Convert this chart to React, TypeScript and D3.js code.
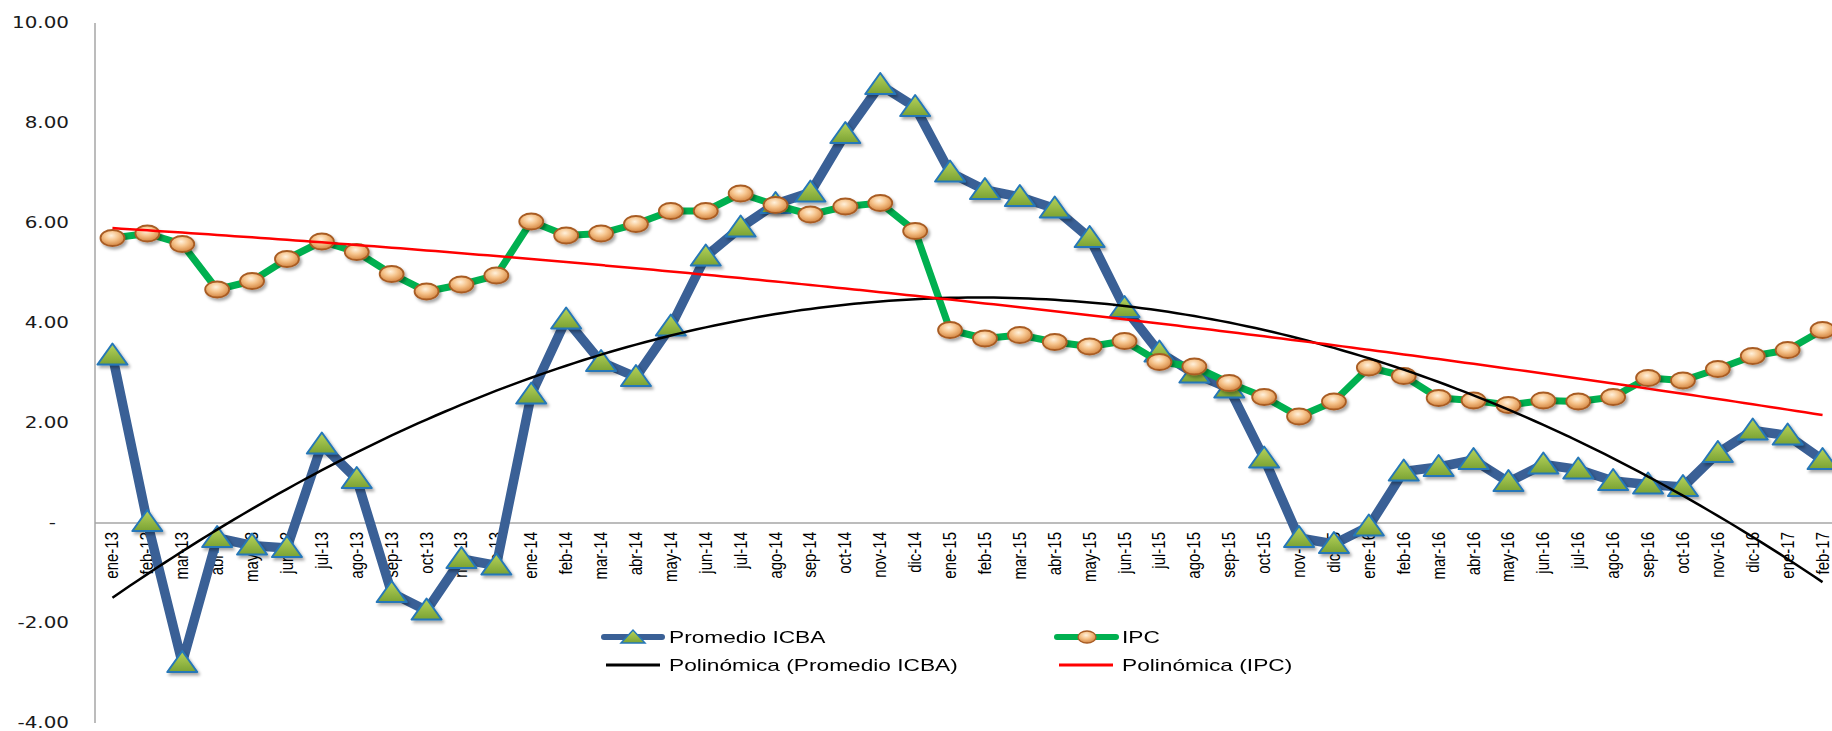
import React from 'react';
import * as d3 from 'd3';

const categories = [
  'ene-13', 'feb-13', 'mar-13', 'abr-13', 'may-13', 'jun-13', 'jul-13', 'ago-13', 'sep-13', 'oct-13', 'nov-13', 'dic-13',
  'ene-14', 'feb-14', 'mar-14', 'abr-14', 'may-14', 'jun-14', 'jul-14', 'ago-14', 'sep-14', 'oct-14', 'nov-14', 'dic-14',
  'ene-15', 'feb-15', 'mar-15', 'abr-15', 'may-15', 'jun-15', 'jul-15', 'ago-15', 'sep-15', 'oct-15', 'nov-15', 'dic-15',
  'ene-16', 'feb-16', 'mar-16', 'abr-16', 'may-16', 'jun-16', 'jul-16', 'ago-16', 'sep-16', 'oct-16', 'nov-16', 'dic-16',
  'ene-17', 'feb-17',
];

const icba = [
  3.35, 0.02, -2.8, -0.3, -0.45, -0.5, 1.57, 0.88, -1.4, -1.75, -0.72, -0.85,
  2.57, 4.07, 3.22, 2.92, 3.93, 5.33, 5.91, 6.38, 6.61, 7.78, 8.76, 8.32,
  7.01, 6.66, 6.52, 6.29, 5.7, 4.3, 3.41, 2.99, 2.69, 1.29, -0.3, -0.42,
  -0.07, 1.03, 1.12, 1.26, 0.82, 1.17, 1.07, 0.84, 0.77, 0.72, 1.4, 1.85,
  1.75, 1.26,
];

const ipc = [
  5.7, 5.79, 5.58, 4.67, 4.84, 5.28, 5.63, 5.42, 4.98, 4.63, 4.77, 4.95,
  6.03, 5.75, 5.79, 5.98, 6.24, 6.24, 6.59, 6.36, 6.17, 6.33, 6.4, 5.84,
  3.86, 3.69, 3.76, 3.62, 3.53, 3.64, 3.22, 3.13, 2.8, 2.52, 2.13, 2.43,
  3.11, 2.94, 2.5, 2.45, 2.36, 2.45, 2.43, 2.52, 2.9, 2.85, 3.08, 3.34,
  3.46, 3.86,
];

const yTicks = [-4, -2, 0, 2, 4, 6, 8, 10];
const legendLabels = ['Promedio ICBA', 'IPC', 'Polinómica (Promedio ICBA)', 'Polinómica (IPC)'];
const trendOrder = 2;

// least squares polynomial, x = 1..n like excel
function polyFit(ys: number[], order: number) {
  const xs = ys.map((_, i) => i + 1);
  const m = order + 1;
  const A: number[][] = [];
  for (let r = 0; r < m; r++) {
    const row: number[] = [];
    for (let c = 0; c < m; c++) row.push(d3.sum(xs, x => Math.pow(x, r + c)));
    row.push(d3.sum(xs, (x, i) => ys[i] * Math.pow(x, r)));
    A.push(row);
  }
  for (let i = 0; i < m; i++) {
    let p = i;
    for (let k = i + 1; k < m; k++) if (Math.abs(A[k][i]) > Math.abs(A[p][i])) p = k;
    [A[i], A[p]] = [A[p], A[i]];
    for (let k = i + 1; k < m; k++) {
      const f = A[k][i] / A[i][i];
      for (let j = i; j <= m; j++) A[k][j] -= f * A[i][j];
    }
  }
  const coef = new Array(m).fill(0);
  for (let i = m - 1; i >= 0; i--) {
    let s = A[i][m];
    for (let j = i + 1; j < m; j++) s -= A[i][j] * coef[j];
    coef[i] = s / A[i][i];
  }
  return (x: number) => coef.reduce((acc, c, k) => acc + c * Math.pow(x, k), 0);
}

const W = 1832;
const H = 731;

const triPath = 'M-15,9L15,9L0,-12Z';
const triSmall = 'M-12,6L12,6L0,-7Z';
const font = "'Liberation Sans', Arial, sans-serif";

export default function App() {
  const x = d3.scaleBand<string>().domain(categories).range([95, 1840]).padding(0);
  const y = d3.scaleLinear().domain([-4, 10]).range([723, 23]);
  const cx = (c: string) => (x(c) as number) + x.bandwidth() / 2;

  const line = d3.line<number>()
    .x((_, i) => cx(categories[i]))
    .y(d => y(d));

  const tIdx = d3.scaleLinear().domain([1, categories.length]).range([cx(categories[0]), cx(categories[categories.length - 1])]);
  const fitIcba = polyFit(icba, trendOrder);
  const fitIpc = polyFit(ipc, trendOrder);
  const steps = d3.range(1, categories.length + 0.001, 0.25);
  const trendIcba = d3.line<number>().x(t => tIdx(t)).y(t => y(fitIcba(t)))(steps);
  const trendIpc = d3.line<number>().x(t => tIdx(t)).y(t => y(fitIpc(t)))(steps);

  const legendText = (label: string, lx: number, ly: number) => (
    <text transform={`translate(${lx},${ly}) scale(1.42,1)`} fontFamily={font} fontSize={16} fill="#000">{label}</text>
  );

  return (
    <svg width={W} height={H} style={{ position: 'absolute', left: 0, top: 0, background: '#fff' }}>
      <defs>
        <linearGradient id="triFill" x1="0" y1="0" x2="0" y2="1">
          <stop offset="0%" stopColor="#b7d45c" />
          <stop offset="100%" stopColor="#7aa233" />
        </linearGradient>
        <radialGradient id="dotFill" cx="45%" cy="35%" r="65%">
          <stop offset="0%" stopColor="#fff1dc" />
          <stop offset="45%" stopColor="#f6c48c" />
          <stop offset="100%" stopColor="#d3843f" />
        </radialGradient>
        <filter id="shadow" x="-50%" y="-50%" width="200%" height="200%">
          <feDropShadow dx="2" dy="2.5" stdDeviation="1.5" floodColor="#000" floodOpacity="0.35" />
        </filter>
      </defs>

      {/* axes */}
      <line x1={95} x2={95} y1={23} y2={723} stroke="#a6a6a6" strokeWidth={1.5} />
      <line x1={95} x2={W} y1={y(0)} y2={y(0)} stroke="#a6a6a6" strokeWidth={1.5} />

      {yTicks.map(t => (
        <text key={t}
          transform={`translate(${t === 0 ? 56 : 69},${y(t)}) scale(1.33,1)`}
          dy="0.36em" textAnchor="end"
          fontFamily="'DejaVu Sans', Verdana, sans-serif" fontSize={15} fill="#1a1a1a">
          {t === 0 ? '-' : t.toFixed(2)}
        </text>
      ))}

      {categories.map(c => (
        <text key={c}
          transform={`translate(${cx(c) + 6},532) rotate(-90) scale(1,1.18)`}
          textAnchor="end" fontFamily={font} fontSize={15} fill="#000">
          {c}
        </text>
      ))}

      {/* Promedio ICBA */}
      <path d={line(icba) ?? ''} fill="none" stroke="#3a6096" strokeWidth={9.5} strokeLinejoin="round" />
      <g filter="url(#shadow)">
        {icba.map((v, i) => (
          <path key={i} d={triPath} transform={`translate(${cx(categories[i])},${y(v)})`}
            fill="url(#triFill)" stroke="#2577b8" strokeWidth={2} strokeLinejoin="round" />
        ))}
      </g>

      {/* IPC */}
      <path d={line(ipc) ?? ''} fill="none" stroke="#00b050" strokeWidth={7} strokeLinejoin="round" />
      <g filter="url(#shadow)">
        {ipc.map((v, i) => (
          <ellipse key={i} cx={cx(categories[i])} cy={y(v)} rx={12} ry={8}
            fill="url(#dotFill)" stroke="#a85c24" strokeWidth={1.8} />
        ))}
      </g>

      {/* trendlines */}
      <path d={trendIcba ?? ''} fill="none" stroke="#000" strokeWidth={2.5} />
      <path d={trendIpc ?? ''} fill="none" stroke="#ff0000" strokeWidth={2.5} />

      {/* legend */}
      <g>
        <line x1={604} x2={662} y1={637} y2={637} stroke="#3a6096" strokeWidth={6} strokeLinecap="round" />
        <path d={triSmall} transform="translate(633,637)" fill="url(#triFill)" stroke="#2577b8" strokeWidth={1.5} />
        {legendText(legendLabels[0], 669, 643)}

        <line x1={1057} x2={1116} y1={637} y2={637} stroke="#00b050" strokeWidth={6} strokeLinecap="round" />
        <ellipse cx={1087} cy={637} rx={9} ry={6} fill="url(#dotFill)" stroke="#a85c24" strokeWidth={1.3} />
        {legendText(legendLabels[1], 1122, 643)}

        <line x1={606} x2={660} y1={665} y2={665} stroke="#000" strokeWidth={3} />
        {legendText(legendLabels[2], 669, 671)}

        <line x1={1059} x2={1113} y1={665} y2={665} stroke="#ff0000" strokeWidth={3} />
        {legendText(legendLabels[3], 1122, 671)}
      </g>
    </svg>
  );
}
